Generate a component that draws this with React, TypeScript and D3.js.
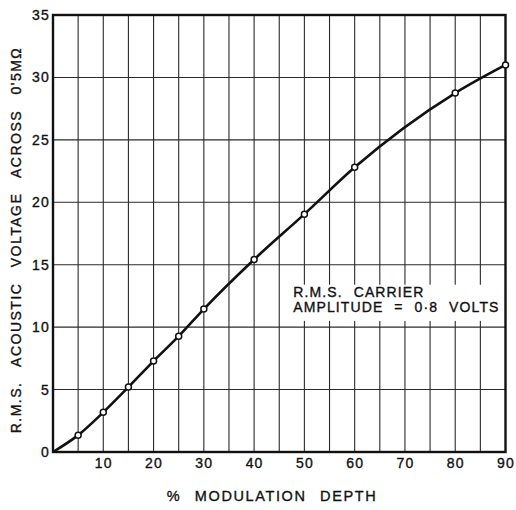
import * as d3 from "d3";
import { useEffect, useRef } from "react";

const modulation = [0, 5, 10, 15, 20, 25, 30, 40, 50, 60, 80, 90];
const voltage = [0, 1.35, 3.18, 5.2, 7.28, 9.28, 11.45, 15.42, 19.05, 22.8, 28.75, 31.0];
const markerFrom = 1; // origin has no circle

const xTicks = [10, 20, 30, 40, 50, 60, 70, 80, 90];
const yTicks = [0, 5, 10, 15, 20, 25, 30, 35];
const xGrid = d3.range(5, 90, 5);
const yGrid = d3.range(5, 35, 5);

const xTitle = "% MODULATION DEPTH";
const yTitle = "R.M.S. ACOUSTIC VOLTAGE ACROSS 0'5MΩ";
const noteLines = ["R.M.S. CARRIER", "AMPLITUDE = 0·8 VOLTS"];

const W = 516;
const H = 510;
const FONT = "'Liberation Sans', Arial, sans-serif";
const INK = "#111";

const App = () => {
  const ref = useRef<SVGSVGElement>(null);

  useEffect(() => {
    const svg = d3.select(ref.current);
    svg.selectAll("*").remove();

    const x = d3.scaleLinear().domain([0, 90]).range([53, 505.5]);
    const y = d3.scaleLinear().domain([0, 35]).range([452, 15]);

    svg.append("rect").attr("width", W).attr("height", H).attr("fill", "#fff");

    // grid
    const grid = svg.append("g").attr("stroke", "#2a2a2a").attr("stroke-width", 1.1);
    grid.selectAll("line.v").data(xGrid).join("line")
      .attr("x1", (d) => x(d)).attr("x2", (d) => x(d))
      .attr("y1", y(35)).attr("y2", y(0));
    grid.selectAll("line.h").data(yGrid).join("line")
      .attr("x1", x(0)).attr("x2", x(90))
      .attr("y1", (d) => y(d)).attr("y2", (d) => y(d));

    // annotation with white backing
    const note = svg.append("g").attr("font-family", FONT).attr("font-size", 14)
      .attr("letter-spacing", 1.1).attr("word-spacing", 6)
      .attr("fill", INK).attr("stroke", INK).attr("stroke-width", 0.35);
    note.append("rect").attr("x", x(47.5)).attr("y", y(13.4))
      .attr("width", x(89.5) - x(47.5)).attr("height", y(10.5) - y(13.4))
      .attr("fill", "#fff").attr("stroke", "none");
    note.selectAll("text").data(noteLines).join("text")
      .attr("x", x(47.8))
      .attr("y", (_, i) => y(12.4) + i * 15)
      .text((d) => d);

    // frame
    svg.append("rect")
      .attr("x", x(0)).attr("y", y(35))
      .attr("width", x(90) - x(0)).attr("height", y(0) - y(35))
      .attr("fill", "none").attr("stroke", INK).attr("stroke-width", 2.4);

    // axes
    const xAxis = d3.axisBottom(x).tickValues(xTicks).tickSize(0).tickPadding(6);
    const yAxis = d3.axisLeft(y).tickValues(yTicks).tickSize(0).tickPadding(3);

    const gx = svg.append("g").attr("transform", `translate(0,${y(0)})`).call(xAxis);
    const gy = svg.append("g").attr("transform", `translate(${x(0)},0)`).call(yAxis);
    [gx, gy].forEach((g) => {
      g.select(".domain").remove();
      g.selectAll("text")
        .attr("font-family", FONT).attr("font-size", 14)
        .attr("letter-spacing", 1.2).attr("fill", INK)
        .attr("stroke", INK).attr("stroke-width", 0.35);
    });

    // curve
    const pts = modulation.map((m, i) => [m, voltage[i]] as [number, number]);
    const line = d3.line<[number, number]>()
      .x((d) => x(d[0])).y((d) => y(d[1]))
      .curve(d3.curveMonotoneX);
    svg.append("path").datum(pts).attr("d", line)
      .attr("fill", "none").attr("stroke", INK).attr("stroke-width", 2.6);

    svg.selectAll("circle.pt").data(pts.slice(markerFrom)).join("circle")
      .attr("cx", (d) => x(d[0])).attr("cy", (d) => y(d[1]))
      .attr("r", 3).attr("fill", "#fff").attr("stroke", INK).attr("stroke-width", 1.5);

    // titles
    svg.append("text")
      .attr("x", 272).attr("y", 501)
      .attr("text-anchor", "middle")
      .attr("font-family", FONT).attr("font-size", 14.5)
      .attr("letter-spacing", 1.6).attr("word-spacing", 8)
      .attr("fill", INK).attr("stroke", INK).attr("stroke-width", 0.35)
      .text(xTitle);

    svg.append("text")
      .attr("transform", `translate(21,${240}) rotate(-90)`)
      .attr("text-anchor", "middle")
      .attr("font-family", FONT).attr("font-size", 14)
      .attr("letter-spacing", 1.5).attr("word-spacing", 10)
      .attr("fill", INK).attr("stroke", INK).attr("stroke-width", 0.35)
      .text(yTitle);
  }, []);

  return (
    <svg ref={ref} width={W} height={H}
      style={{ position: "absolute", left: 0, top: 0, display: "block" }} />
  );
};

export default App;
